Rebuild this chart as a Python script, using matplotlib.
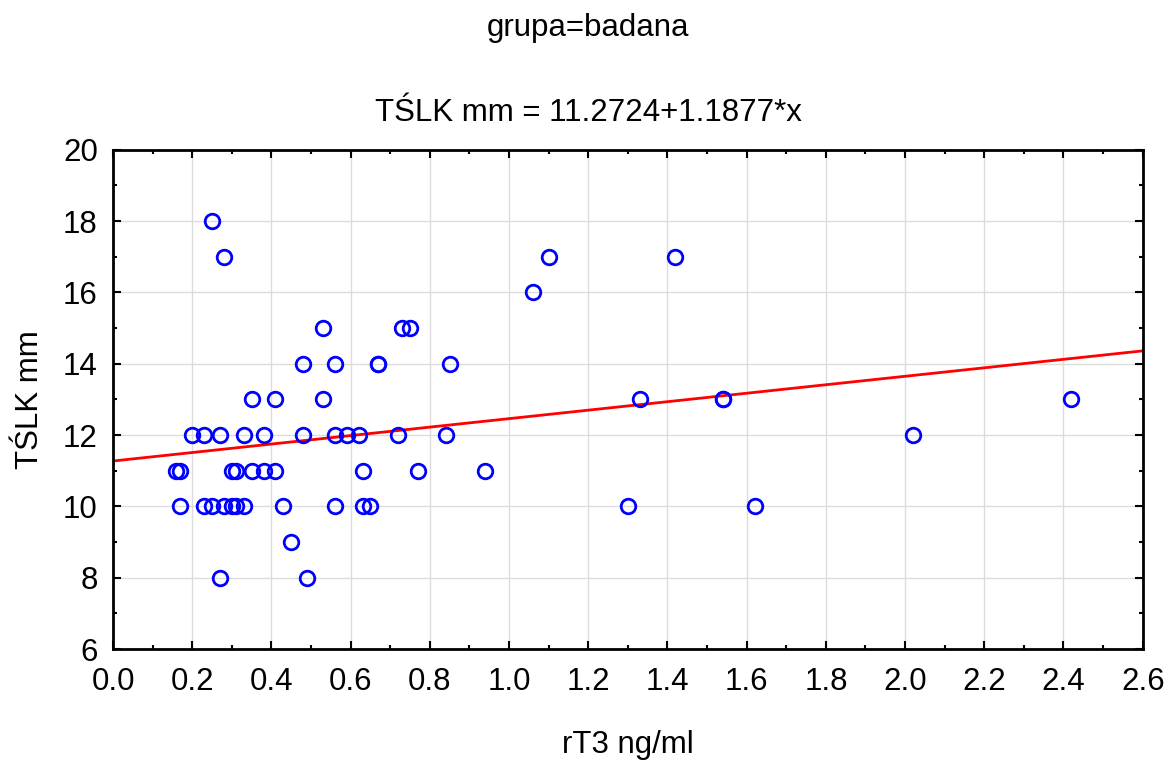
import numpy as np
import matplotlib.pyplot as plt
from matplotlib.ticker import MultipleLocator

plt.rcParams['font.family'] = ['Liberation Sans', 'DejaVu Sans']

# rT3 (x) and TSLK (y)
rt3 = [0.25, 0.28,
       0.53, 0.73, 0.75,
       0.48, 0.56, 0.67, 0.67,
       0.35, 0.41, 0.53, 1.33, 1.54, 1.54, 2.42,
       0.20, 0.23, 0.27, 0.33, 0.38, 0.48, 0.56, 0.59, 0.62, 0.72, 0.84, 2.02,
       0.16, 0.17, 0.30, 0.31, 0.35, 0.38, 0.41, 0.63, 0.77, 0.94,
       0.17, 0.23, 0.25, 0.28, 0.30, 0.31, 0.33, 0.43, 0.56, 0.63, 0.65, 1.30, 1.62,
       0.45,
       0.27, 0.49,
       0.85, 1.06, 1.10, 1.42]
tslk = [18, 17,
        15, 15, 15,
        14, 14, 14, 14,
        13, 13, 13, 13, 13, 13, 13,
        12, 12, 12, 12, 12, 12, 12, 12, 12, 12, 12, 12,
        11, 11, 11, 11, 11, 11, 11, 11, 11, 11,
        10, 10, 10, 10, 10, 10, 10, 10, 10, 10, 10, 10, 10,
        9,
        8, 8,
        14, 16, 17, 17]

intercept = 11.2724
slope = 1.1877

fig = plt.figure(figsize=(11.72, 7.6), dpi=100)
ax = fig.add_axes([0.0965, 0.146, 0.8785, 0.657])

line_x = np.array([0.0, 2.6])
ax.plot(line_x, intercept + slope * line_x, color='red', lw=2, zorder=2)
ax.plot(rt3, tslk, 'o', mfc='none', mec='blue', ms=10.5, mew=2, zorder=3)

ax.set_xlim(0, 2.6)
ax.set_ylim(6, 20)
ax.xaxis.set_major_locator(MultipleLocator(0.2))
ax.xaxis.set_minor_locator(MultipleLocator(0.1))
ax.yaxis.set_major_locator(MultipleLocator(2))
ax.yaxis.set_minor_locator(MultipleLocator(1))
ax.xaxis.set_major_formatter(plt.FuncFormatter(lambda v, p: f'{v:.1f}'))
ax.tick_params(which='both', direction='in', top=True, right=True, labelsize=22.5, width=1.5)
ax.tick_params(axis='x', which='major', pad=13)
ax.tick_params(axis='y', which='major', pad=11)
ax.tick_params(which='major', length=6)
ax.tick_params(which='minor', length=3)
ax.grid(True, which='major', color='#dcdcdc', lw=1)
ax.set_axisbelow(True)
for s in ax.spines.values():
    s.set_linewidth(2)

fig.text(0.5355, 0.020, 'rT3 ng/ml', ha='center', va='center', fontsize=22.5)
fig.text(0.026, 0.474, 'TŚLK mm', ha='center', va='center', rotation=90, fontsize=22.5)

fig.text(0.502, 0.963, 'grupa=badana', ha='center', va='center', fontsize=22.5)
fig.text(0.502, 0.851, 'TŚLK mm = 11.2724+1.1877*x', ha='center', va='center', fontsize=22.5)

fig.savefig('out.png', dpi=100)
